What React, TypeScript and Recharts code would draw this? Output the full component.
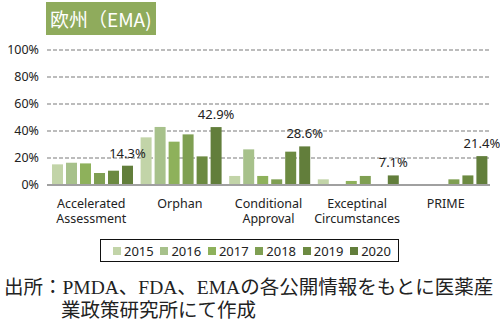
import { Bar, BarChart, CartesianGrid, LabelList, XAxis, YAxis } from "recharts"

const CATEGORIES = [
  ["Accelerated", "Assessment"],
  ["Orphan"],
  ["Conditional", "Approval"],
  ["Exceptinal", "Circumstances"],
  ["PRIME"],
]
const YEARS = ["2015", "2016", "2017", "2018", "2019", "2020"]
const COLORS = ["#c2d4a8", "#a7c18b", "#8eb15b", "#7f9f52", "#6c8a41", "#627e3b"]

const V2015 = [15.3, 35.3, 6.7, 4.2, 0]
const V2016 = [16.5, 43.0, 26.4, 0, 0]
const V2017 = [16.0, 32.1, 6.7, 3.0, 0]
const V2018 = [8.9, 37.5, 4.2, 6.7, 4.2]
const V2019 = [10.6, 21.2, 24.7, 0, 7.1]
const V2020 = [14.3, 42.9, 28.6, 7.1, 21.4]
const SERIES = [V2015, V2016, V2017, V2018, V2019, V2020]
const Y_TICKS = [0, 20, 40, 60, 80, 100]

const data = CATEGORIES.map((lines, i) => {
  const row: Record<string, any> = { name: lines.join(" ") }
  YEARS.forEach((y, j) => {
    row[y] = SERIES[j][i]
  })
  return row
})

function CategoryTick({ x, y, payload }: any) {
  const lines = CATEGORIES[payload.index] ?? [payload.value]
  return (
    <g>
      {lines.map((l, i) => (
        <text key={i} x={x} y={y + 15 + i * 15} textAnchor="middle" fontSize={12.5} fill="#222">
          {l}
        </text>
      ))}
    </g>
  )
}

// plain text so the label is not squeezed into the bar width
function TopLabel({ x, y, width, value }: any) {
  return (
    <text x={x + width / 2} y={y - 8} textAnchor="middle" fontSize={13} fill="#222">
      {`${Number(value).toFixed(1)}%`}
    </text>
  )
}

function LegendBox() {
  return (
    <div
      style={{
        position: "absolute",
        left: 100,
        top: 239,
        width: 299,
        height: 23,
        border: "1.5px solid #111",
        display: "flex",
        alignItems: "center",
        justifyContent: "space-between",
        padding: "0 7px 0 12px",
        boxSizing: "border-box",
        fontSize: 13,
        color: "#222",
      }}
    >
      {YEARS.map((y, i) => (
        <span key={y} style={{ display: "flex", alignItems: "center" }}>
          <span
            style={{
              width: 8,
              height: 8,
              background: COLORS[i],
              marginRight: 3,
              display: "inline-block",
            }}
          />
          {y}
        </span>
      ))}
    </div>
  )
}

export default function App() {
  return (
    <div
      style={{
        position: "absolute",
        left: 0,
        top: 0,
        width: 500,
        height: 333,
        background: "#fff",
        fontFamily: "'Noto Sans', 'Noto Sans CJK JP', sans-serif",
      }}
    >
      <style>{`.recharts-surface, .recharts-wrapper { overflow: visible !important; }`}</style>
      <div style={{ position: "absolute", left: 0, top: 0 }}>
        <BarChart
          width={500}
          height={235}
          data={data}
          margin={{ top: 50, right: 10, bottom: 0, left: 5 }}
          barCategoryGap={5}
          barGap={3}
        >
          <CartesianGrid
            vertical={false}
            stroke="#7a7a7a"
            strokeDasharray="4 2"
            strokeWidth={1.2}
          />
          <XAxis
            dataKey="name"
            tick={<CategoryTick />}
            tickLine={false}
            axisLine={{ stroke: "#a0a0a0", strokeWidth: 2 }}
            interval={0}
            height={50}
          />
          <YAxis
            domain={[0, 100]}
            ticks={Y_TICKS}
            tickFormatter={(v: number) => `${v}%`}
            tickLine={false}
            axisLine={false}
            width={42}
            tick={{ fontSize: 12.5, fill: "#222" }}
          />
          {YEARS.map((y, i) => (
            <Bar key={y} dataKey={y} fill={COLORS[i]} isAnimationActive={false}>
              {i === YEARS.length - 1 && (
                <LabelList dataKey={y} content={<TopLabel />} />
              )}
            </Bar>
          ))}
        </BarChart>
      </div>
      <div
        style={{
          position: "absolute",
          left: 46,
          top: 2,
          height: 33,
          zIndex: 2,
          background: "#8fab5c",
          color: "#fff",
          fontFamily: "'Noto Sans CJK JP', sans-serif",
          fontSize: 19,
          lineHeight: "33px",
          padding: "0 4px 0 4px",
          whiteSpace: "nowrap",
        }}
      >
        欧州（EMA)
      </div>
      <LegendBox />
      <div
        style={{
          position: "absolute",
          left: 4,
          top: 276,
          fontFamily: "'Liberation Serif', 'Noto Sans CJK JP', serif",
          fontSize: 19.5,
          lineHeight: "23px",
          color: "#222",
          whiteSpace: "nowrap",
        }}
      >
        <div>出所：PMDA、FDA、EMAの各公開情報をもとに医薬産</div>
        <div style={{ paddingLeft: 57 }}>業政策研究所にて作成</div>
      </div>
    </div>
  )
}
